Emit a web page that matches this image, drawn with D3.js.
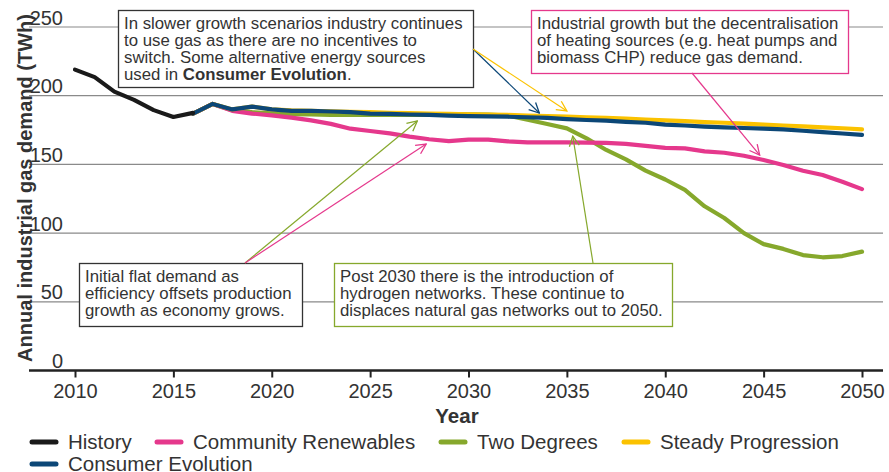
<!DOCTYPE html>
<html>
<head>
<meta charset="utf-8">
<script src="https://cdn.jsdelivr.net/npm/d3@7"></script>
<style>
  body { margin: 0; background: #fff; }
  text { font-family: "Liberation Sans", Arial, sans-serif; fill: #333; }
</style>
</head>
<body>
<script>
// data
var historyYears = [2010, 2011, 2012, 2013, 2014, 2015, 2016];
var historyValues = [219, 213.5, 203, 197, 189.5, 184.5, 187.5];

var scenarioYears = d3.range(2016, 2051);
var communityRenewables = [187, 194, 189, 187, 185.7, 184, 182, 179.5, 176, 174.3,
    172.6, 170.2, 168.3, 167, 168, 168, 166.8, 166, 166, 166,
    165.8, 165.6, 165, 163.5, 162, 161.7, 159.5, 158.5, 156.3, 153.2,
    149.6, 145.4, 142.3, 137.4, 132];
var twoDegrees = [187, 194, 189.5, 188, 187.2, 186.5, 186.3, 186, 186, 186,
    186, 186, 186, 186.5, 186.5, 186.3, 185.5, 182.5, 179.4, 176.2,
    169, 160.5, 153.7, 145.5, 139, 131.5, 119.5, 111, 100, 92,
    88.5, 84, 82.4, 83.3, 86.5];
var steadyProgression = [187, 194, 190, 192, 190, 189.3, 189, 188.7, 188.3, 188,
    187.6, 187.3, 187, 186.7, 186.5, 186.2, 186, 185.6, 185.2, 184.7,
    184.3, 183.8, 183.3, 182.6, 182, 181.5, 180.8, 180.3, 179.7, 179,
    178.3, 177.7, 177, 176.3, 175.5];
var consumerEvolution = [187, 194, 190, 192, 190, 189, 189, 188.5, 188, 187,
    186.7, 186.3, 186, 185.5, 185.2, 185, 184.7, 184.3, 183.8, 183,
    182.3, 181.8, 181, 180.3, 179, 178.3, 177.5, 177, 176.5, 176,
    175.5, 174.5, 173.5, 172.5, 171.5];

var yTicks = [0, 50, 100, 150, 200, 250];
var xTicks = [2010, 2015, 2020, 2025, 2030, 2035, 2040, 2045, 2050];

var seriesNames = ["History", "Community Renewables", "Two Degrees", "Steady Progression", "Consumer Evolution"];
var seriesColors = ["#1a1a1a", "#e5388c", "#86a82c", "#fbc200", "#0c4777"];

// set the dimensions and margins of the graph
var W = 889, H = 472;
var margin = { top: 27, right: 27, bottom: 101.5, left: 75 },
    width = W - margin.left - margin.right,
    height = H - margin.top - margin.bottom;

// set the ranges
var x = d3.scaleLinear().domain([2010, 2050]).range([0, 787]);
var y = d3.scaleLinear().domain([0, 250]).range([height, 0]);

var svg = d3.select("body").append("svg")
    .attr("width", W)
    .attr("height", H);

var g = svg.append("g")
    .attr("transform", "translate(" + margin.left + "," + margin.top + ")");

// gridlines (run past the plot on both sides)
var gridLeft = -46, gridRight = 808;
g.selectAll(".grid")
    .data(yTicks.filter(function (d) { return d > 0; }))
    .enter().append("line")
    .attr("class", "grid")
    .attr("x1", gridLeft).attr("x2", gridRight)
    .attr("y1", function (d) { return y(d); })
    .attr("y2", function (d) { return y(d); })
    .attr("stroke", "#8a8a8a")
    .attr("stroke-width", 1.2);

// y tick labels sit just above their gridline
g.selectAll(".ylab")
    .data(yTicks)
    .enter().append("text")
    .attr("class", "ylab")
    .attr("x", -12)
    .attr("y", function (d) { return y(d) - 2.5; })
    .attr("text-anchor", "end")
    .style("font-size", "20px")
    .text(function (d) { return d; });

// x axis
var xAxis = g.append("g")
    .attr("transform", "translate(0," + height + ")")
    .call(d3.axisBottom(x).tickValues(xTicks).tickFormat(d3.format("d")).tickSize(7).tickPadding(6));
xAxis.select(".domain").remove();
xAxis.selectAll(".tick line").attr("stroke", "#222").attr("stroke-width", 2);
xAxis.selectAll(".tick text")
    .style("font-size", "20px")
    .style("font-family", "Liberation Sans, Arial, sans-serif")
    .attr("fill", "#333");
g.append("line")
    .attr("x1", gridLeft).attr("x2", gridRight)
    .attr("y1", height).attr("y2", height)
    .attr("stroke", "#222")
    .attr("stroke-width", 2.5);

// axis titles
svg.append("text")
    .attr("transform", "translate(32,188) rotate(-90)")
    .attr("text-anchor", "middle")
    .style("font-size", "20px")
    .style("font-weight", "bold")
    .text("Annual industrial gas demand (TWh)");

svg.append("text")
    .attr("x", 457).attr("y", 423)
    .attr("text-anchor", "middle")
    .style("font-size", "20.5px")
    .style("font-weight", "bold")
    .text("Year");

// lines
var line = d3.line()
    .x(function (d) { return x(d[0]); })
    .y(function (d) { return y(d[1]); });

function pairs(years, values) {
    return years.map(function (yr, i) { return [yr, values[i]]; });
}

var series = [
    { name: "Two Degrees", values: pairs(scenarioYears, twoDegrees) },
    { name: "Community Renewables", values: pairs(scenarioYears, communityRenewables) },
    { name: "Steady Progression", values: pairs(scenarioYears, steadyProgression) },
    { name: "Consumer Evolution", values: pairs(scenarioYears, consumerEvolution) },
    { name: "History", values: pairs(historyYears, historyValues) }
];

var color = d3.scaleOrdinal().domain(seriesNames).range(seriesColors);

g.selectAll(".series")
    .data(series)
    .enter().append("path")
    .attr("class", "series")
    .attr("d", function (d) { return line(d.values); })
    .attr("fill", "none")
    .attr("stroke", function (d) { return color(d.name); })
    .attr("stroke-width", 4.2)
    .attr("stroke-linejoin", "round")
    .attr("stroke-linecap", "round");

// arrow heads
var defs = svg.append("defs");
seriesNames.forEach(function (n) {
    defs.append("marker")
        .attr("id", "arrow-" + n.replace(/ /g, ""))
        .attr("viewBox", "0 0 12 12")
        .attr("refX", 11).attr("refY", 6)
        .attr("markerUnits", "userSpaceOnUse")
        .attr("markerWidth", 12).attr("markerHeight", 12)
        .attr("orient", "auto")
        .append("path")
        .attr("d", "M1,1 L11,6 L1,11")
        .attr("fill", "none")
        .attr("stroke", color(n))
        .attr("stroke-width", 1.3);
});

// annotation boxes (page coordinates)
var notes = [
    { x: 118, y: 10, w: 355, h: 77, border: "#333",
      lines: [["In slower growth scenarios industry continues"], ["to use gas as there are no incentives to"],
              ["switch. Some alternative energy sources"], ["used in ", "Consumer Evolution", "."]] },
    { x: 531, y: 10, w: 317, h: 63, border: "#e5388c",
      lines: [["Industrial growth but the decentralisation"], ["of heating sources (e.g. heat pumps and"],
              ["biomass CHP) reduce gas demand."]] },
    { x: 79, y: 263, w: 223, h: 63, border: "#333",
      lines: [["Initial flat demand as"], ["efficiency offsets production"], ["growth as economy grows."]] },
    { x: 334, y: 263, w: 338, h: 63, border: "#86a82c",
      lines: [["Post 2030 there is the introduction of"], ["hydrogen networks. These continue to"],
              ["displaces natural gas networks out to 2050."]] }
];

// arrows: start in page pixels, end in data coordinates
var arrows = [
    { from: [473, 49], to: [2033.6, 187.4], s: "Consumer Evolution" },
    { from: [473, 49], to: [2035.0, 188.9], s: "Steady Progression" },
    { from: [692, 73], to: [2044.8, 156.8], s: "Community Renewables" },
    { from: [245, 263], to: [2027.4, 181.6], s: "Two Degrees" },
    { from: [245, 263], to: [2027.85, 164.8], s: "Community Renewables" },
    { from: [593, 263], to: [2035.3, 170.6], s: "Two Degrees" }
];

var ann = svg.append("g");
notes.forEach(function (n) {
    ann.append("rect")
        .attr("x", n.x + 0.5).attr("y", n.y + 0.5)
        .attr("width", n.w).attr("height", n.h)
        .attr("fill", "#fff")
        .attr("stroke", n.border)
        .attr("stroke-width", 1.3);
    var t = ann.append("text")
        .attr("x", n.x + 6)
        .style("font-size", "16.8px");
    n.lines.forEach(function (parts, i) {
        parts.forEach(function (p, j) {
            var ts = t.append("tspan").text(p);
            if (j === 0) ts.attr("x", n.x + 6).attr("y", n.y + 18.5 + i * 17.3);
            if (parts.length > 1 && j === 1) ts.style("font-weight", "bold");
        });
    });
});

ann.selectAll(".arrow")
    .data(arrows)
    .enter().append("line")
    .attr("class", "arrow")
    .attr("x1", function (d) { return d.from[0]; })
    .attr("y1", function (d) { return d.from[1]; })
    .attr("x2", function (d) { return margin.left + x(d.to[0]); })
    .attr("y2", function (d) { return margin.top + y(d.to[1]); })
    .attr("stroke", function (d) { return color(d.s); })
    .attr("stroke-width", 1.2)
    .attr("marker-end", function (d) { return "url(#arrow-" + d.s.replace(/ /g, "") + ")"; });

// legend
var legendPos = [[30, 442], [155, 442], [439, 442], [622, 442], [30, 464]];
var legend = svg.selectAll(".legend")
    .data(seriesNames)
    .enter().append("g")
    .attr("class", "legend")
    .attr("transform", function (d, i) { return "translate(" + legendPos[i][0] + "," + legendPos[i][1] + ")"; });

legend.append("line")
    .attr("x1", 2).attr("x2", 26)
    .attr("stroke", function (d) { return color(d); })
    .attr("stroke-width", 5)
    .attr("stroke-linecap", "round");

legend.append("text")
    .attr("x", 38).attr("y", 6.5)
    .style("font-size", "20.5px")
    .text(function (d) { return d; });
</script>
</body>
</html>
